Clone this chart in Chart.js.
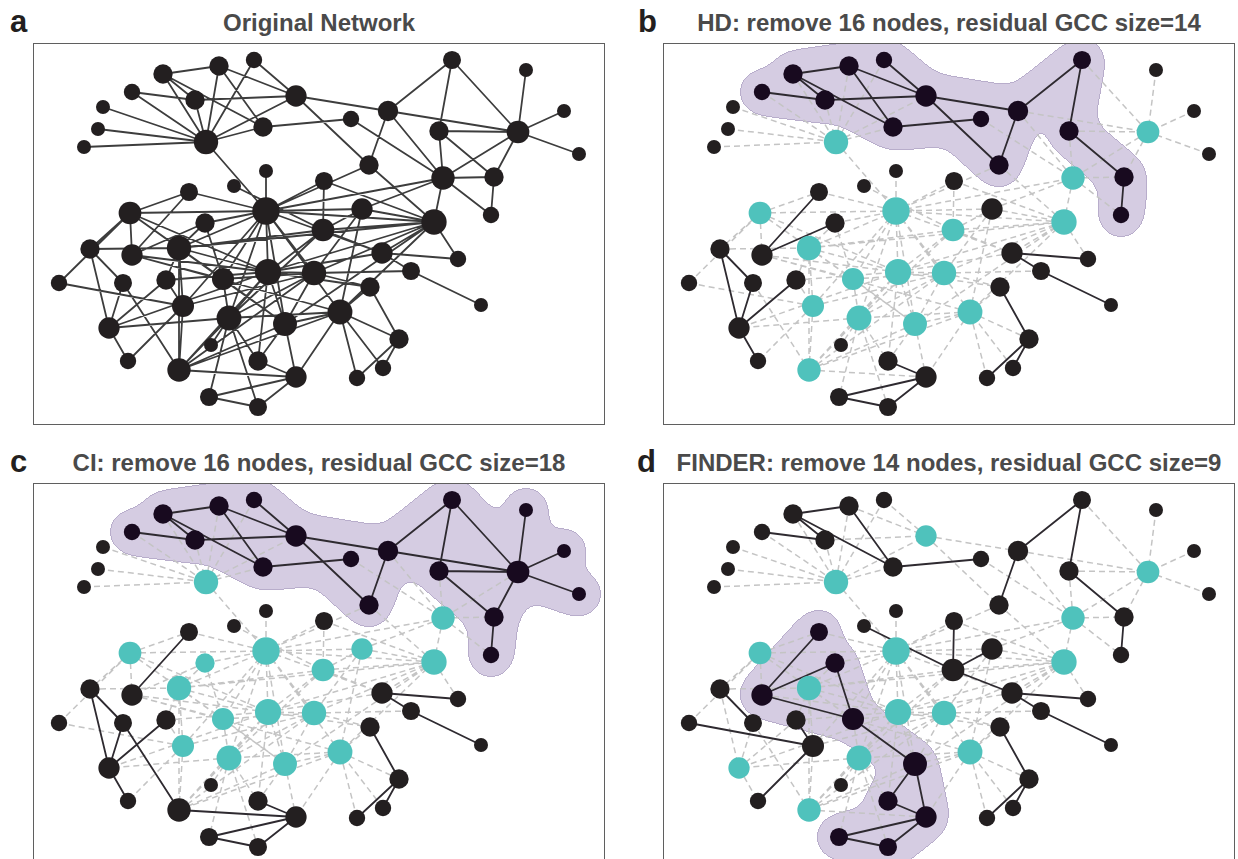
<!DOCTYPE html>
<html>
<head>
<meta charset="utf-8">
<script src="https://cdn.jsdelivr.net/npm/chart.js@4.4.1/dist/chart.umd.min.js"></script>
<style>
  body { margin: 0; background: #fff; width: 1238px; height: 859px; overflow: hidden; position: relative;
         font-family: "Liberation Sans", Arial, sans-serif; }
  .letter { position: absolute; font-weight: bold; font-size: 31px; line-height: 34px; color: #231f20; }
  .title { position: absolute; width: 572px; text-align: center; font-weight: bold; font-size: 24px;
           line-height: 28px; color: #4a4a4a; white-space: nowrap; }
  .panel { position: absolute; width: 572px; height: 382px; }
  .panel canvas { position: absolute; left: 0; top: 0; }
  .frame { position: absolute; left: 0; top: 0; width: 572px; height: 382px; box-sizing: border-box;
           border: 1.6px solid #5f5f5f; pointer-events: none; }
</style>
</head>
<body>

<div class="letter" style="left:10px;top:5px">a</div>
<div class="letter" style="left:638px;top:5px">b</div>
<div class="letter" style="left:10px;top:445px">c</div>
<div class="letter" style="left:637px;top:445px">d</div>

<div class="title" id="t0" style="left:33px;top:9px"></div>
<div class="title" id="t1" style="left:663px;top:9px"></div>
<div class="title" id="t2" style="left:33px;top:449px"></div>
<div class="title" id="t3" style="left:663px;top:449px"></div>

<div class="panel" style="left:33px;top:43px"><canvas id="c0" width="572" height="382"></canvas><div class="frame"></div></div>
<div class="panel" style="left:663px;top:43px"><canvas id="c1" width="572" height="382"></canvas><div class="frame"></div></div>
<div class="panel" style="left:33px;top:483px"><canvas id="c2" width="572" height="382"></canvas><div class="frame"></div></div>
<div class="panel" style="left:663px;top:483px"><canvas id="c3" width="572" height="382"></canvas><div class="frame"></div></div>

<script>
// layout of the network (same layout in every panel)
var nodeNames = ['N1','N2','N3','N4','N5','N6','N7','N8','N9','N10','N11',
                 'M1','M2','M3','M4','M5','M6','M7','M8','M9','M11','M12','M13',
                 'N12','N13','N14','N15','N16','N17','N18','M14','M15','M16',
                 'P1','P2','P3','P4','P5','P6','P7','P8','P9','P10','P11','P12','P13','P14','P15','P16','P17','P18','P19','P20',
                 'Q1','Q2','Q3','Q4','Q5','Q6','Q7','Q8','Q9'];
var nodeX = [163,219,254,132,195,296,103,98,84,206,263,
             452,526,388,351,439,518,564,579,369,443,494,491,
             266,234,189,130,266,205,324,362,434,323,
             90,132,179,59,123,166,223,268,314,183,229,285,109,211,128,179,258,296,209,258,
             382,458,411,481,370,340,399,383,357];
var nodeY = [74,66,60,92,100,96,107,129,147,142,127,
             60,70,111,119,131,132,111,154,165,178,177,215,
             171,186,192,213,211,223,181,209,222,230,
             249,255,248,283,283,280,279,272,273,306,318,324,328,345,361,370,361,377,397,407,
             253,259,271,305,287,312,339,368,378];

var edgeList = [
  'N1-N2','N1-N5','N1-N11','N1-N10','N2-N6','N2-N11','N2-N10','N3-N6','N3-N10',
  'N4-N5','N5-N6','N4-N10','N5-N10','N7-N10','N8-N10','N9-N10','N10-N11','N10-N6','N10-N16',
  'N11-M4','N6-M3','N6-M9',
  'M3-M9','M1-M3','M1-M5','M1-M6','M2-M6','M7-M6','M8-M6','M3-M6','M5-M6',
  'M3-M11','M4-M11','M5-M11','M5-M12','M6-M11','M6-M12','M11-M12','M11-M13','M12-M13',
  'M11-M15','M9-M15','M9-N16','N18-M15','M14-M15','M16-M15','N16-M11','M14-M11',
  'N15-N14','N14-N16','N15-N16','N12-N16','N13-M16',
  'N15-P2','N15-P1','P4-N15','N15-P3','N15-P7','N15-P8',
  'N14-P2','N17-P2','N17-N16','N17-P7','N17-P3',
  'N18-N16','N18-M16','N16-M14','N16-P8','N16-P9','N16-P7','N16-P12','N16-P11','N16-M15',
  'N16-Q6','N16-P3','N16-P10','N16-Q1',
  'M16-M14','M16-Q1','M16-P8','M16-P11','M16-P3','M14-P9','M14-Q6',
  'M15-Q2','M15-P8','M15-P9','M15-P12','M15-Q6','M15-Q1','M15-P3',
  'Q1-Q2','Q1-Q3','Q1-P8','Q3-Q4','Q3-P9',
  'P1-P5','P1-P13','P1-P3','P5-P13','P6-P13','P13-P15','P4-P10','P6-P10','P10-P15','P2-P7',
  'P7-P12','P12-P17','P12-P18','P17-P18','P18-P19','P19-P20','P20-P18',
  'Q9-Q7','Q8-Q7','Q8-Q6','Q9-Q6',
  'P5-P16','P3-P8','P3-P16','P3-P12','P6-P3','P6-P8',
  'P8-P2','P8-P11','P8-P12','P8-P9','P8-Q5','P8-P17','P8-P16','P8-P13',
  'P9-P11','P9-Q5','P9-P16','P9-P12','P7-P11','P7-P9',
  'P11-P13','P11-P16','P11-P17','P11-P19','P11-P20','P11-P14',
  'P12-P16','P12-Q6','Q6-Q5','Q6-Q7','Q6-P11','Q6-P16','Q6-P2','Q6-P18',
  'Q5-Q7','P10-P16','P10-P3','P10-P9','P16-P18'
];

// nodes removed by each method
var methods = ['HD', 'CI', 'FINDER'];
var removedHD = ['N10','M6','M11','M15','N16','N15','M16','P3','P8','P9','P7','P10','P11','P12','Q6','P16'];
var removedCI = ['N10','N15','N16','N17','M16','M14','M11','M15','P3','P8','P9','P7','P10','P11','P12','Q6'];
var removedFINDER = ['N10','N6','M6','M11','M15','N16','N15','P3','P8','P9','Q6','P11','P13','P16'];

var TEAL = '#4fc2bc', NODE = '#231f20', GCC = '#180a1f';

function idx(name) { return nodeNames.indexOf(name); }
var edges = edgeList.map(function (s) { return s.split('-').map(idx); });
var degree = nodeNames.map(function () { return 0; });
edges.forEach(function (e) { degree[e[0]]++; degree[e[1]]++; });
// marker size grows with node degree
var nodeRadius = degree.map(function (k) { return 5 + 2.9 * Math.log(1 + k); });

function largestComponent(gone) {
    var adj = nodeNames.map(function () { return []; });
    edges.forEach(function (e) {
        if (!gone.has(e[0]) && !gone.has(e[1])) { adj[e[0]].push(e[1]); adj[e[1]].push(e[0]); }
    });
    var seen = new Set(), best = [];
    nodeNames.forEach(function (_, s) {
        if (gone.has(s) || seen.has(s)) return;
        var comp = [s]; seen.add(s);
        for (var q = 0; q < comp.length; q++) {
            adj[comp[q]].forEach(function (n) { if (!seen.has(n)) { seen.add(n); comp.push(n); } });
        }
        if (comp.length > best.length) best = comp;
    });
    return best;
}

// edges as one broken line: a, b, gap, ...
function segments(list) {
    var pts = [];
    list.forEach(function (e) {
        pts.push({ x: nodeX[e[0]], y: nodeY[e[0]] }, { x: nodeX[e[1]], y: nodeY[e[1]] }, { x: nodeX[e[1]], y: null });
    });
    return pts;
}

// shaded blob round the residual giant component
function hullPlugin(gccNodes, gccEdges) {
    return {
        id: 'gccHull',
        beforeDatasetsDraw: function (chart) {
            if (!gccNodes.length) return;
            var w = chart.width, h = chart.height;
            var sx = chart.scales.x, sy = chart.scales.y;
            var px = function (i) { return sx.getPixelForValue(nodeX[i]); };
            var py = function (i) { return sy.getPixelForValue(nodeY[i]); };
            var pad = 19;
            var a = document.createElement('canvas'); a.width = w; a.height = h;
            var ac = a.getContext('2d');
            ac.lineCap = 'round'; ac.lineWidth = 2 * pad; ac.strokeStyle = '#000'; ac.fillStyle = '#000';
            gccEdges.forEach(function (e) {
                ac.beginPath(); ac.moveTo(px(e[0]), py(e[0])); ac.lineTo(px(e[1]), py(e[1])); ac.stroke();
            });
            gccNodes.forEach(function (i) {
                ac.beginPath(); ac.arc(px(i), py(i), pad, 0, 2 * Math.PI); ac.fill();
            });
            var b = document.createElement('canvas'); b.width = w; b.height = h;
            var bc = b.getContext('2d');
            bc.filter = 'blur(10px)';
            bc.drawImage(a, 0, 0);
            var d = bc.getImageData(0, 0, w, h).data;
            var inside = new Uint8Array(w * h);
            for (var k = 0; k < w * h; k++) inside[k] = d[4 * k + 3] > 0.3 * 255 ? 1 : 0;
            var c = document.createElement('canvas'); c.width = w; c.height = h;
            var cc = c.getContext('2d');
            var out = cc.createImageData(w, h), o = out.data;
            for (var y = 1; y < h - 1; y++) {
                for (var x = 1; x < w - 1; x++) {
                    var p = y * w + x;
                    if (!inside[p]) continue;
                    var edge = !inside[p - 1] || !inside[p + 1] || !inside[p - w] || !inside[p + w];
                    o[4 * p] = edge ? 184 : 213; o[4 * p + 1] = edge ? 173 : 204;
                    o[4 * p + 2] = edge ? 203 : 226; o[4 * p + 3] = 255;
                }
            }
            cc.putImageData(out, 0, 0);
            chart.ctx.drawImage(c, 0, 0, w, h);
        }
    };
}

function makePanel(canvasId, removed) {
    var gone = new Set((removed || []).map(idx));
    var gcc = removed ? largestComponent(gone) : [];
    var inG = new Set(gcc);
    var solid = edges.filter(function (e) { return !gone.has(e[0]) && !gone.has(e[1]); });
    var dashed = edges.filter(function (e) { return gone.has(e[0]) || gone.has(e[1]); });
    var gccEdges = solid.filter(function (e) { return inG.has(e[0]) && inG.has(e[1]); });
    var colors = nodeNames.map(function (_, i) { return gone.has(i) ? TEAL : (inG.has(i) ? GCC : NODE); });

    new Chart(document.getElementById(canvasId), {
        type: 'scatter',
        data: {
            datasets: [{
                data: nodeNames.map(function (_, i) { return { x: nodeX[i], y: nodeY[i] }; }),
                pointRadius: nodeRadius,
                pointHoverRadius: nodeRadius,
                pointBackgroundColor: colors,
                pointBorderColor: colors,
                pointBorderWidth: 0,
                order: 0
            }, {
                data: segments(solid),
                showLine: true,
                pointRadius: 0,
                borderColor: removed ? '#2e2a30' : '#3d3d3d',
                borderWidth: 1.8,
                order: 1
            }, {
                data: segments(dashed),
                showLine: true,
                pointRadius: 0,
                borderColor: '#c4c4c4',
                borderWidth: 1.5,
                borderDash: [6, 4],
                order: 2
            }]
        },
        options: {
            responsive: false,
            animation: false,
            events: [],
            layout: { padding: 0, autoPadding: false },
            plugins: { legend: { display: false }, tooltip: { enabled: false } },
            scales: {
                x: { type: 'linear', min: 33, max: 605, display: false },
                y: { type: 'linear', min: 43, max: 425, reverse: true, display: false }
            }
        },
        plugins: [hullPlugin(gcc, gccEdges)]
    });
    return gcc;
}

document.getElementById('t0').textContent = 'Original Network';
makePanel('c0', null);
[removedHD, removedCI, removedFINDER].forEach(function (rem, k) {
    var gcc = makePanel('c' + (k + 1), rem);
    document.getElementById('t' + (k + 1)).textContent =
        methods[k] + ': remove ' + rem.length + ' nodes, residual GCC size=' + gcc.length;
});
</script>
</body>
</html>
